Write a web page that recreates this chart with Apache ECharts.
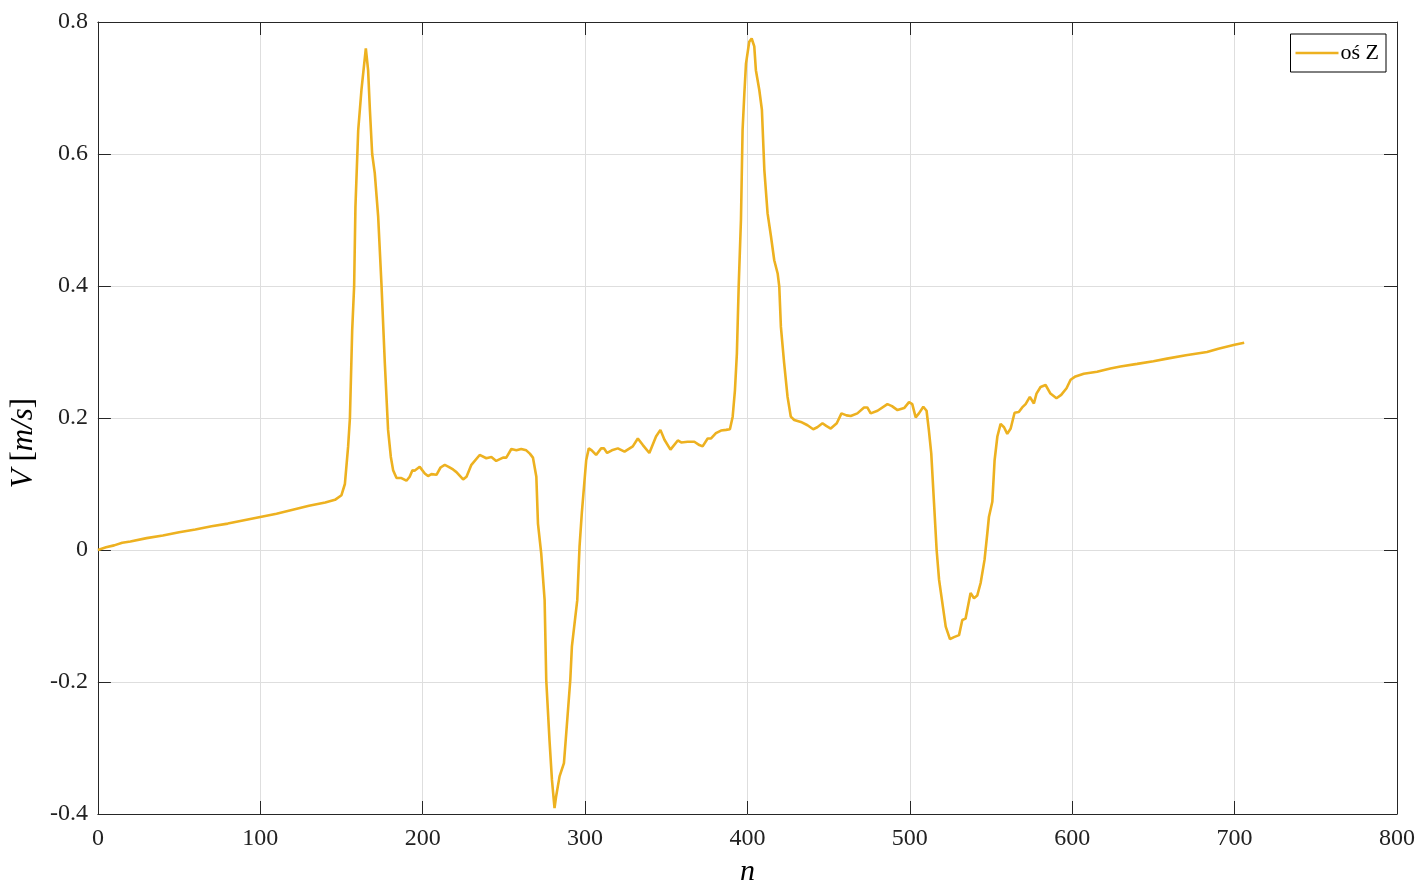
<!DOCTYPE html>
<html>
<head>
<meta charset="utf-8">
<script src="https://cdn.jsdelivr.net/npm/echarts@6/dist/echarts.min.js"></script>
<style>
html,body{margin:0;padding:0;background:#fff;}
#chart{width:1418px;height:892px;}
</style>
</head>
<body>
<div id="chart"></div>
<script>
const seriesName = 'oś Z';
const xLabelTicks = ['0','100','200','300','400','500','600','700','800'];
const yLabelTicks = ['-0.4','-0.2','0','0.2','0.4','0.6','0.8'];
const nValues = [
0,5,10,15,20,30,40,50,60,70,80,90,100,110,120,130,140,146,150,152.1,154.1,155.2,156.6,157.8,158.6,160.3,162.3,165.0,166.4,167.5,168.9,170.5,172.6,174.6,176.7,178.7,180.4,181.8,183.9,186.9,190,192,193.7,195,198.2,201.3,203.3,205.4,208.5,211,213.6,216,218.7,220.8,224.9,227,230,235.1,239.2,242.3,245.3,249.5,251.5,254.6,257.7,260.7,263.8,266,267.9,270,271,273,275.1,276.1,278.1,279.6,281.2,282.2,284.3,287,288.4,290.9,291.9,295.2,296.6,298,300.7,302.3,304.1,306.8,309.9,311.6,313.6,316.5,320.2,324.3,329.4,332.5,335.6,339.6,343.7,346.4,348.9,352.6,357.1,359.2,363.2,367.3,370.4,372.4,375.5,377.6,380.6,383.7,386.8,389.2,390.9,392.3,393.5,394.6,396,397,398.1,399.1,401.1,402.6,404.2,405.2,407.3,408.9,410.4,412.4,414.5,416.5,418.6,419.6,420.6,422.6,424.7,426.7,428.8,432.9,437,440.5,443,446.2,448.5,451.3,455,457.9,461,463.6,467.7,471.8,473.8,475.9,480.1,486.2,489,492.4,496.5,499.5,501.5,503.6,505.6,508.3,510.3,511.7,513.2,514.9,516.5,518,519.5,522.1,524.7,527.2,530.3,532.3,534.3,537.4,539.5,541.5,543.6,546,547.7,548.7,550.8,552.2,553.9,555.9,558,560,562.1,564.5,567.1,569.2,571.3,573.9,576.4,578,580.5,583.6,586.6,590.3,593.2,596.5,599,602,607.1,615.3,623.5,629.7,640,650,658.4,670,683,690,700,705.9
];
const vValues = [
0.000,0.004,0.007,0.011,0.013,0.018,0.022,0.027,0.031,0.036,0.040,0.045,0.050,0.055,0.061,0.067,0.072,0.076,0.083,0.10,0.157,0.2,0.333,0.40,0.52,0.636,0.697,0.760,0.727,0.667,0.60,0.571,0.505,0.404,0.283,0.182,0.141,0.121,0.109,0.109,0.105,0.111,0.121,0.12,0.126,0.116,0.112,0.115,0.114,0.125,0.129,0.126,0.122,0.118,0.107,0.111,0.129,0.144,0.139,0.141,0.135,0.14,0.14,0.153,0.151,0.153,0.151,0.146,0.14,0.111,0.04,-0.005,-0.076,-0.197,-0.288,-0.348,-0.391,-0.373,-0.343,-0.323,-0.278,-0.197,-0.146,-0.076,0.005,0.056,0.136,0.154,0.151,0.144,0.154,0.154,0.147,0.151,0.154,0.149,0.157,0.169,0.159,0.147,0.172,0.182,0.167,0.152,0.166,0.163,0.164,0.164,0.159,0.157,0.169,0.169,0.177,0.181,0.182,0.183,0.202,0.242,0.298,0.399,0.5,0.636,0.692,0.737,0.770,0.775,0.763,0.727,0.697,0.667,0.576,0.51,0.475,0.439,0.419,0.399,0.338,0.283,0.232,0.202,0.197,0.194,0.189,0.183,0.186,0.192,0.188,0.184,0.192,0.207,0.204,0.203,0.207,0.216,0.216,0.207,0.211,0.221,0.218,0.212,0.215,0.224,0.221,0.201,0.207,0.217,0.211,0.182,0.146,0.071,0.0,-0.045,-0.071,-0.116,-0.135,-0.132,-0.129,-0.106,-0.104,-0.065,-0.073,-0.069,-0.05,-0.015,0.025,0.05,0.073,0.136,0.172,0.191,0.186,0.176,0.184,0.208,0.209,0.216,0.221,0.232,0.222,0.237,0.247,0.25,0.237,0.23,0.235,0.245,0.258,0.263,0.267,0.27,0.275,0.278,0.282,0.286,0.290,0.295,0.300,0.305,0.311,0.314
];

const chart = echarts.init(document.getElementById('chart'), null, {renderer:'canvas'});
const FONT = 'Liberation Serif';
const axisCol = '#262626';
const pairs = nValues.map((n,i)=>[n, vValues[i]]);
function fmtY(v){ const i = Math.round((v+0.4)/0.2); return yLabelTicks[i] !== undefined ? yLabelTicks[i] : ''; }
function fmtX(v){ const i = Math.round(v/100); return xLabelTicks[i] !== undefined ? xLabelTicks[i] : ''; }

const tickCommon = {show:true, inside:true, length:13, lineStyle:{color:axisCol, width:1}};
chart.setOption({
  animation:false,
  backgroundColor:'#fff',
  grid:{left:96, right:21, top:22, bottom:78, containLabel:false},
  legend:{
    show:true, right:32, top:34, orient:'vertical',
    backgroundColor:'#fff', borderColor:'#000', borderWidth:1, borderRadius:0,
    padding:[8,7,8,5], itemWidth:43, itemHeight:2.6, itemGap:0,
    textStyle:{fontFamily:FONT, fontSize:22, color:'#000', padding:[0,0,0,-3]},
    data:[{name:seriesName, icon:'rect'}]
  },
  xAxis:[{
    type:'value', min:0, max:800, interval:100, position:'bottom',
    name:'n', nameLocation:'middle', nameGap:43,
    nameTextStyle:{fontFamily:FONT, fontSize:30, fontStyle:'italic', color:'#000'},
    axisLine:{show:true, onZero:false, lineStyle:{color:axisCol, width:1}},
    axisTick:tickCommon,
    axisLabel:{fontFamily:FONT, fontSize:24, color:'#222', margin:13, formatter:fmtX},
    splitLine:{show:true, lineStyle:{color:'#dedede', width:1}}
  },{
    type:'value', min:0, max:800, interval:100, position:'top',
    axisLine:{show:true, onZero:false, lineStyle:{color:axisCol, width:1}},
    axisTick:tickCommon, axisLabel:{show:false}, splitLine:{show:false}
  }],
  yAxis:[{
    type:'value', min:-0.4, max:0.8, interval:0.2, position:'left',
    name:'{i|V}{n| [}{i|m/s}{n|]}', nameLocation:'middle', nameGap:58, nameRotate:90,
    nameTextStyle:{fontFamily:FONT, fontSize:31, color:'#000', padding:[0,50,0,0],
      rich:{i:{fontFamily:FONT, fontSize:31, fontStyle:'italic', color:'#000'}, n:{fontFamily:FONT, fontSize:31, color:'#000'}}},
    axisLine:{show:true, onZero:false, lineStyle:{color:axisCol, width:1}},
    axisTick:tickCommon,
    axisLabel:{fontFamily:FONT, fontSize:24, color:'#222', margin:10, formatter:fmtY},
    splitLine:{show:true, lineStyle:{color:'#dedede', width:1}}
  },{
    type:'value', min:-0.4, max:0.8, interval:0.2, position:'right',
    axisLine:{show:true, onZero:false, lineStyle:{color:axisCol, width:1}},
    axisTick:tickCommon, axisLabel:{show:false}, splitLine:{show:false}
  }],
  series:[{
    name:seriesName, type:'line', xAxisIndex:0, yAxisIndex:0,
    data:pairs, symbol:'none', showSymbol:false, smooth:false,
    lineStyle:{color:'#EDB120', width:2.6}, itemStyle:{color:'#EDB120'}
  }]
});
</script>
</body>
</html>
